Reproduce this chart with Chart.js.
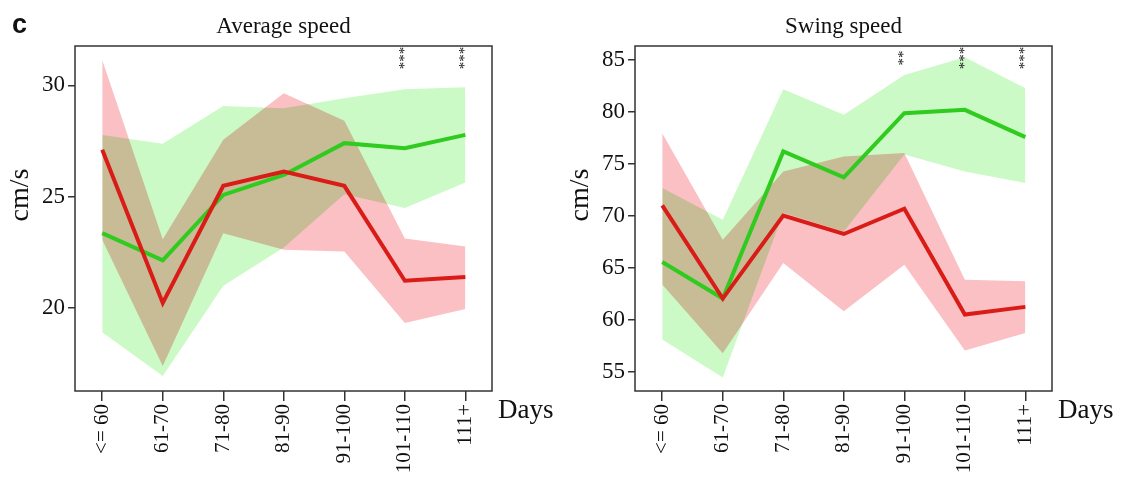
<!DOCTYPE html>
<html>
<head>
  <script src="https://cdn.jsdelivr.net/npm/chart.js@4.4.1/dist/chart.umd.min.js"></script>
  <style>
    body { margin: 0; background: #fff; }
    .wrap { position: relative; width: 1122px; height: 478px; overflow: hidden; }
    canvas { position: absolute; top: 0; }
    #avgChart { left: 0; }
    #swingChart { left: 560px; }
  </style>
</head>
<body>
  <div class="wrap">
    <canvas id="avgChart" width="560" height="478"></canvas>
    <canvas id="swingChart" width="562" height="478"></canvas>
  </div>

  <script>
    const dayLabels = ['<= 60', '61-70', '71-80', '81-90', '91-100', '101-110', '111+'];

    // Average speed (cm/s)
    const avgGreen   = [23.35, 22.13, 25.07, 25.97, 27.40, 27.17, 27.77];
    const avgGreenHi = [27.77, 27.37, 29.07, 28.97, 29.42, 29.82, 29.91];
    const avgGreenLo = [18.89, 16.92, 20.99, 22.70, 25.10, 24.48, 25.63];
    const avgRed     = [27.10, 20.21, 25.48, 26.12, 25.48, 21.21, 21.38];
    const avgRedHi   = [31.14, 23.08, 27.55, 29.64, 28.41, 23.11, 22.75];
    const avgRedLo   = [23.05, 17.37, 23.35, 22.60, 22.53, 19.31, 19.94];
    const avgTicks   = [20, 25, 30];
    const avgSig     = ['', '', '', '', '', '***', '***'];

    // Swing speed (cm/s)
    const swGreen   = [65.57, 62.05, 76.20, 73.70, 79.88, 80.20, 77.57];
    const swGreenHi = [72.68, 69.64, 82.18, 79.72, 83.56, 85.26, 82.28];
    const swGreenLo = [58.11, 54.45, 70.30, 68.50, 75.90, 74.28, 73.16];
    const swRed     = [71.01, 62.05, 70.02, 68.26, 70.69, 60.51, 61.25];
    const swRedHi   = [77.96, 67.71, 74.28, 75.72, 76.04, 63.87, 63.71];
    const swRedLo   = [63.40, 56.80, 65.47, 60.83, 65.31, 57.05, 58.75];
    const swTicks   = [55, 60, 65, 70, 75, 80, 85];
    const swSig     = ['', '', '', '', '**', '***', '***'];

    const serif = '"Liberation Serif", "Times New Roman", serif';
    Chart.defaults.font.family = serif;
    Chart.defaults.color = '#111';

    const pts = arr => arr.map((v, i) => ({x: i, y: v}));

    // bands are blended with multiply so the overlap turns brownish
    const decoPlugin = {
      id: 'deco',
      beforeDraw(chart) { chart.ctx.globalCompositeOperation = 'multiply'; },
      beforeDatasetsDraw(chart) { chart.ctx.globalCompositeOperation = 'source-over'; },
      afterDraw(chart, args, opts) {
        const ctx = chart.ctx, a = chart.chartArea, xs = chart.scales.x;
        ctx.save();
        ctx.globalCompositeOperation = 'source-over';
        ctx.strokeStyle = '#333';
        ctx.lineWidth = 1.5;
        ctx.strokeRect(a.left, a.top, a.right - a.left, a.bottom - a.top);

        ctx.fillStyle = '#111';
        ctx.font = '23px ' + serif;
        ctx.textAlign = 'center';
        ctx.textBaseline = 'alphabetic';
        ctx.fillText(opts.title, (a.left + a.right) / 2, 33);

        ctx.font = '27px ' + serif;
        ctx.textAlign = 'left';
        ctx.fillText('Days', a.right + 6, 418);

        ctx.save();
        ctx.translate(21, 195);
        ctx.rotate(-Math.PI / 2);
        ctx.textAlign = 'center';
        ctx.textBaseline = 'middle';
        ctx.font = '28px ' + serif;
        ctx.fillText('cm/s', 0, 0);
        ctx.restore();

        ctx.font = '15px ' + serif;
        opts.sig.forEach((s, i) => {
          if (!s) return;
          ctx.save();
          ctx.translate(xs.getPixelForValue(i), 58);
          ctx.rotate(-Math.PI / 2);
          ctx.textAlign = 'center';
          ctx.textBaseline = 'middle';
          ctx.fillText(s, 0, 0);
          ctx.restore();
        });

        if (opts.letter) {
          ctx.font = 'bold 27px "Liberation Sans", Arial, sans-serif';
          ctx.textAlign = 'left';
          ctx.fillText(opts.letter, 12, 33);
        }
        ctx.restore();
      }
    };

    function makePanel(id, title, letter, padRight, yMin, yMax, yTicks, sig, green, greenHi, greenLo, red, redHi, redLo) {
      const line = (data, color) => ({
        data: pts(data), borderColor: color, borderWidth: 4,
        pointRadius: 0, tension: 0, fill: false
      });
      const band = (data, color, fill) => ({
        data: pts(data), borderWidth: 0, borderColor: 'transparent',
        backgroundColor: color, pointRadius: 0, tension: 0, fill: fill
      });

      return new Chart(document.getElementById(id), {
        type: 'line',
        data: {
          datasets: [
            line(red, '#d91c17'),
            line(green, '#2fcb1f'),
            band(redHi, 'rgb(250,192,195)', '+1'),
            band(redLo, 'transparent', false),
            band(greenHi, 'rgb(204,250,198)', '+1'),
            band(greenLo, 'transparent', false)
          ]
        },
        plugins: [decoPlugin],
        options: {
          responsive: false,
          animation: false,
          events: [],
          layout: { padding: { left: 0, top: 46, right: padRight, bottom: 0 } },
          plugins: {
            legend: { display: false },
            tooltip: { enabled: false },
            filler: { drawTime: 'beforeDatasetsDraw' },
            deco: { title: title, letter: letter, sig: sig }
          },
          scales: {
            x: {
              type: 'linear',
              min: -0.45,
              max: 6.44,
              afterBuildTicks: s => { s.ticks = dayLabels.map((d, i) => ({value: i})); },
              afterFit: s => { s.height = 87; },
              grid: { drawOnChartArea: false, drawTicks: true, tickLength: 10, color: '#333', lineWidth: 1.5 },
              border: { display: false },
              ticks: {
                autoSkip: false,
                minRotation: 90,
                maxRotation: 90,
                padding: 3,
                font: { size: 21 },
                callback: v => dayLabels[v] ?? ''
              }
            },
            y: {
              min: yMin,
              max: yMax,
              afterBuildTicks: s => { s.ticks = yTicks.map(v => ({value: v})); },
              afterFit: s => { s.width = 75; },
              grid: { drawOnChartArea: false, drawTicks: true, tickLength: 7, color: '#333', lineWidth: 1.5 },
              border: { display: false },
              ticks: { padding: 3, font: { size: 23 } }
            }
          }
        }
      });
    }

    makePanel('avgChart', 'Average speed', 'c', 68, 16.25, 31.77, avgTicks, avgSig,
      avgGreen, avgGreenHi, avgGreenLo, avgRed, avgRedHi, avgRedLo);
    makePanel('swingChart', 'Swing speed', '', 70, 53.16, 86.34, swTicks, swSig,
      swGreen, swGreenHi, swGreenLo, swRed, swRedHi, swRedLo);
  </script>
</body>
</html>
